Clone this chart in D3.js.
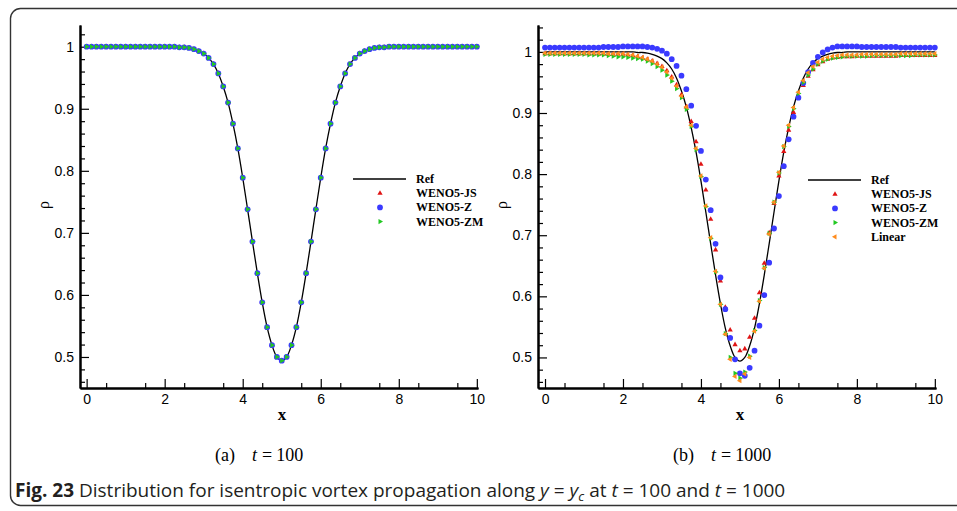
<!DOCTYPE html>
<html>
<head>
<meta charset="utf-8">
<script src="https://cdnjs.cloudflare.com/ajax/libs/d3/7.8.5/d3.min.js"></script>
<style>
  body { margin: 0; background: #fff; }
  .axis .tick text { font-family: "Liberation Sans", Arial, sans-serif; font-size: 14px; fill: #000; }
  .axis .tick line { stroke: #000; stroke-width: 1.2; }
  .axis .domain { stroke: #000; stroke-width: 2; }
  .legend text { font-family: "Liberation Serif", "Times New Roman", serif; font-size: 12px; font-weight: bold; }
  .title { font-family: "Liberation Serif", "Times New Roman", serif; }
  .caption { font-family: "Open Sans", "Noto Sans", sans-serif; font-size: 19px; fill: #231f20; }
</style>
</head>
<body>
<svg id="chart" width="957" height="511"></svg>
<script>

/* -----------------------
    DATA
 -------------------------- */

//-- GRID POINTS (dx = 0.125)
var xGrid = [0, 0.125, 0.25, 0.375, 0.5, 0.625, 0.75, 0.875, 1, 1.125, 1.25, 1.375, 1.5, 1.625, 1.75, 1.875,
  2, 2.125, 2.25, 2.375, 2.5, 2.625, 2.75, 2.875, 3, 3.125, 3.25, 3.375, 3.5, 3.625, 3.75, 3.875,
  4, 4.125, 4.25, 4.375, 4.5, 4.625, 4.75, 4.875, 5, 5.125, 5.25, 5.375, 5.5, 5.625, 5.75, 5.875,
  6, 6.125, 6.25, 6.375, 6.5, 6.625, 6.75, 6.875, 7, 7.125, 7.25, 7.375, 7.5, 7.625, 7.75, 7.875,
  8, 8.125, 8.25, 8.375, 8.5, 8.625, 8.75, 8.875, 9, 9.125, 9.25, 9.375, 9.5, 9.625, 9.75, 9.875, 10];

//-- REFERENCE SOLUTION (same in both panels)
var rhoRef = [1, 1, 1, 1, 1, 1, 1, 1, 1, 1,
  1, 1, 1, 1, 1, 1, 1, 1, 1, 0.999,
  0.999, 0.998, 0.996, 0.993, 0.989, 0.982, 0.972, 0.957, 0.936, 0.910,
  0.876, 0.836, 0.789, 0.738, 0.686, 0.635, 0.588, 0.548, 0.519, 0.500,
  0.494,
  0.500, 0.519, 0.548, 0.588, 0.635, 0.686, 0.738, 0.789, 0.836, 0.876,
  0.910, 0.936, 0.957, 0.972, 0.982, 0.989, 0.993, 0.996, 0.998, 0.999,
  0.999, 1, 1, 1, 1, 1, 1, 1, 1, 1,
  1, 1, 1, 1, 1, 1, 1, 1, 1, 1];

//-- t = 100 : all three schemes lie on the reference
var rhoT100 = rhoRef;

//-- t = 1000
var rhoJS = [0.997, 0.997, 0.997, 0.997, 0.997, 0.997, 0.997, 0.997, 0.997, 0.997,
  0.997, 0.997, 0.997, 0.996, 0.996, 0.996, 0.996, 0.995, 0.994, 0.992,
  0.990, 0.988, 0.985, 0.981, 0.976, 0.969, 0.959, 0.946, 0.930, 0.910,
  0.886, 0.853, 0.816, 0.774, 0.726, 0.676, 0.625, 0.582, 0.545, 0.521,
  0.511, 0.514, 0.533, 0.564, 0.606, 0.654, 0.704, 0.752, 0.797, 0.837,
  0.872, 0.901, 0.925, 0.945, 0.960, 0.971, 0.979, 0.984, 0.988, 0.990,
  0.991, 0.992, 0.992, 0.992, 0.993, 0.993, 0.993, 0.993, 0.993, 0.993,
  0.993, 0.993, 0.993, 0.994, 0.994, 0.994, 0.994, 0.994, 0.994, 0.994, 0.994];

var rhoZ = [1.007, 1.007, 1.007, 1.007, 1.007, 1.007, 1.007, 1.007, 1.007, 1.007,
  1.007, 1.007, 1.008, 1.008, 1.008, 1.008, 1.009, 1.009, 1.009, 1.009,
  1.009, 1.008, 1.007, 1.005, 1.002, 0.997, 0.988, 0.977, 0.961, 0.939,
  0.912, 0.879, 0.838, 0.791, 0.741, 0.686, 0.631, 0.579, 0.532, 0.497,
  0.474, 0.470, 0.483, 0.511, 0.552, 0.602, 0.655, 0.711, 0.764, 0.813,
  0.857, 0.894, 0.925, 0.949, 0.967, 0.982, 0.992, 0.999, 1.004, 1.007,
  1.009, 1.009, 1.009, 1.009, 1.009, 1.008, 1.008, 1.008, 1.008, 1.008,
  1.008, 1.008, 1.008, 1.007, 1.007, 1.007, 1.007, 1.007, 1.007, 1.007, 1.007];

var rhoZM = [0.996, 0.996, 0.996, 0.996, 0.996, 0.996, 0.996, 0.996, 0.996, 0.995,
  0.995, 0.995, 0.995, 0.994, 0.993, 0.992, 0.992, 0.991, 0.990, 0.989,
  0.988, 0.985, 0.981, 0.976, 0.970, 0.962, 0.952, 0.940, 0.925, 0.906,
  0.878, 0.840, 0.796, 0.747, 0.695, 0.640, 0.587, 0.539, 0.500, 0.474,
  0.466, 0.476, 0.502, 0.544, 0.593, 0.647, 0.703, 0.754, 0.802, 0.845,
  0.878, 0.907, 0.932, 0.950, 0.962, 0.972, 0.980, 0.985, 0.988, 0.990,
  0.991, 0.992, 0.993, 0.993, 0.993, 0.993, 0.993, 0.994, 0.994, 0.994,
  0.994, 0.994, 0.994, 0.994, 0.994, 0.994, 0.995, 0.995, 0.995, 0.995, 0.995];

var rhoLinear = [0.998, 0.998, 0.998, 0.998, 0.998, 0.998, 0.998, 0.998, 0.998, 0.998,
  0.998, 0.998, 0.998, 0.997, 0.997, 0.997, 0.997, 0.996, 0.995, 0.993,
  0.991, 0.988, 0.985, 0.980, 0.975, 0.967, 0.957, 0.944, 0.928, 0.910,
  0.880, 0.842, 0.797, 0.748, 0.696, 0.641, 0.587, 0.538, 0.497, 0.469,
  0.462, 0.473, 0.500, 0.543, 0.592, 0.646, 0.702, 0.754, 0.803, 0.846,
  0.880, 0.909, 0.934, 0.953, 0.966, 0.976, 0.983, 0.988, 0.991, 0.993,
  0.994, 0.995, 0.995, 0.995, 0.995, 0.996, 0.996, 0.996, 0.996, 0.996,
  0.996, 0.996, 0.996, 0.997, 0.997, 0.997, 0.997, 0.997, 0.997, 0.997, 0.997];

//-- TICKS
var xTicks = [0, 2, 4, 6, 8, 10];
var yTicks = [0.5, 0.6, 0.7, 0.8, 0.9, 1];

//-- SERIES NAMES
var schemeNames = ['WENO5-JS', 'WENO5-Z', 'WENO5-ZM', 'Linear'];

/* -----------------------
    STYLE
 -------------------------- */
var styles = {
  'WENO5-JS': { color: '#e01414', shape: d3.symbolTriangle, size: 12, rotate: 0 },
  'WENO5-Z': { color: '#3a3aff', shape: d3.symbolCircle, size: 26, rotate: 0 },
  'WENO5-ZM': { color: '#22c822', shape: d3.symbolTriangle, size: 12, rotate: 90 },
  'Linear': { color: '#ff8c1e', shape: d3.symbolTriangle, size: 12, rotate: -90 }
};

var svg = d3.select('#chart');

/* -----------------------
    BORDER
 -------------------------- */
svg.append('rect')
  .attr('x', 10.5).attr('y', 8.5)
  .attr('width', 970).attr('height', 497)
  .attr('rx', 10)
  .attr('fill', 'none')
  .attr('stroke', '#333')
  .attr('stroke-width', 1.4);

/* -----------------------
    PANEL
 -------------------------- */
function drawPanel(opts) {

  var g = svg.append('g');

  //-- SCALES
  var x = d3.scaleLinear().domain(opts.xDomain).range([opts.left, opts.right]);
  var y = d3.scaleLinear().domain(opts.yDomain).range([opts.bottom, opts.top]);

  //-- MINOR TICKS
  var yMinor = d3.range(0.46, opts.yDomain[1], 0.02).filter(function(v) {
    return Math.abs(v * 10 - Math.round(v * 10)) > 0.01;
  });
  var xMinor = d3.range(0.5, 10, 1);

  //-- AXES
  g.append('g')
    .attr('class', 'axis')
    .attr('transform', 'translate(' + opts.left + ',0)')
    .call(d3.axisLeft(y).tickValues(yMinor).tickSize(-5).tickSizeOuter(0).tickFormat(''));
  g.append('g')
    .attr('class', 'axis')
    .attr('transform', 'translate(0,' + opts.bottom + ')')
    .call(d3.axisBottom(x).tickValues(xMinor).tickSize(-5).tickSizeOuter(0).tickFormat(''));

  g.append('g')
    .attr('class', 'axis')
    .attr('transform', 'translate(' + opts.left + ',0)')
    .call(d3.axisLeft(y).tickValues(yTicks).tickSize(-9).tickSizeOuter(0).tickPadding(6)
      .tickFormat(function(d) { return String(d); }));
  g.append('g')
    .attr('class', 'axis')
    .attr('transform', 'translate(0,' + opts.bottom + ')')
    .call(d3.axisBottom(x).tickValues(xTicks).tickSize(-9).tickSizeOuter(0).tickPadding(6));

  //-- AXIS TITLES
  g.append('text')
    .attr('class', 'title')
    .attr('x', (opts.left + opts.right) / 2 + 3)
    .attr('y', 420)
    .attr('text-anchor', 'middle')
    .style('font-size', '17px')
    .style('font-weight', 'bold')
    .text('x');
  g.append('text')
    .attr('class', 'title')
    .attr('transform', 'translate(' + (opts.left - 31) + ',205) rotate(-90)')
    .attr('text-anchor', 'middle')
    .style('font-size', '16px')
    .text('ρ');

  //-- REFERENCE LINE
  var line = d3.line()
    .x(function(d, i) { return x(xGrid[i]); })
    .y(function(d) { return y(d); })
    .curve(d3.curveCatmullRom);

  g.append('path')
    .datum(rhoRef)
    .attr('d', line)
    .attr('fill', 'none')
    .attr('stroke', '#000')
    .attr('stroke-width', 1.3);

  //-- MARKERS
  opts.series.forEach(function(s) {
    var st = styles[s.name];
    g.append('g')
      .selectAll('path')
      .data(s.values)
      .enter().append('path')
      .attr('d', d3.symbol().type(st.shape).size(st.size))
      .attr('transform', function(d, i) {
        return 'translate(' + x(xGrid[i]) + ',' + y(d) + ') rotate(' + st.rotate + ')';
      })
      .attr('fill', st.color);
  });

  //-- LEGEND
  var lg = g.append('g').attr('class', 'legend');
  var rowH = 14.2;
  lg.append('line')
    .attr('x1', opts.legendX).attr('x2', opts.legendX + 53)
    .attr('y1', opts.legendY).attr('y2', opts.legendY)
    .attr('stroke', '#000').attr('stroke-width', 1.3);
  lg.append('text')
    .attr('x', opts.legendX + 63).attr('y', opts.legendY + 4)
    .text('Ref');

  opts.series.forEach(function(s, i) {
    var st = styles[s.name];
    var yy = opts.legendY + rowH * (i + 1);
    lg.append('path')
      .attr('d', d3.symbol().type(st.shape).size(st.size))
      .attr('transform', 'translate(' + (opts.legendX + 27) + ',' + yy + ') rotate(' + st.rotate + ')')
      .attr('fill', st.color);
    lg.append('text')
      .attr('x', opts.legendX + 63).attr('y', yy + 4)
      .text(s.name);
  });

  //-- SUB CAPTION
  var sub = g.append('text')
    .attr('class', 'title')
    .attr('x', opts.subX)
    .attr('y', 461)
    .style('font-size', '18px');
  sub.append('tspan').text(opts.subLabel);
  sub.append('tspan').attr('dx', 17).style('font-style', 'italic').text('t');
  sub.append('tspan').attr('dx', 5).text('=');
  sub.append('tspan').attr('dx', 4).text(opts.subValue);
}

/* -----------------------
    DRAW BOTH PANELS
 -------------------------- */
drawPanel({
  left: 80, right: 478, top: 25, bottom: 388,
  xDomain: [-0.17, 10.03], yDomain: [0.45, 1.035],
  series: [
    { name: 'WENO5-JS', values: rhoT100 },
    { name: 'WENO5-Z', values: rhoT100 },
    { name: 'WENO5-ZM', values: rhoT100 }
  ],
  legendX: 353, legendY: 179,
  subX: 215, subLabel: '(a)', subValue: '100'
});

drawPanel({
  left: 538, right: 936, top: 25, bottom: 388,
  xDomain: [-0.18, 10.03], yDomain: [0.45, 1.044],
  series: [
    { name: 'WENO5-JS', values: rhoJS },
    { name: 'WENO5-Z', values: rhoZ },
    { name: 'WENO5-ZM', values: rhoZM },
    { name: 'Linear', values: rhoLinear }
  ],
  legendX: 808, legendY: 180,
  subX: 673, subLabel: '(b)', subValue: '1000'
});

/* -----------------------
    FIGURE CAPTION
 -------------------------- */
var cap = svg.append('text')
  .attr('class', 'caption')
  .attr('x', 15)
  .attr('y', 497);
cap.append('tspan').style('font-weight', 'bold').text('Fig. 23');
cap.append('tspan').text(' Distribution for isentropic vortex propagation along ');
cap.append('tspan').style('font-style', 'italic').text('y');
cap.append('tspan').text(' = ');
cap.append('tspan').style('font-style', 'italic').text('y');
cap.append('tspan').style('font-style', 'italic').style('font-size', '13px').attr('dy', 4).text('c');
cap.append('tspan').attr('dy', -4).text(' at ');
cap.append('tspan').style('font-style', 'italic').text('t');
cap.append('tspan').text(' = 100 and ');
cap.append('tspan').style('font-style', 'italic').text('t');
cap.append('tspan').text(' = 1000');

</script>
</body>
</html>
